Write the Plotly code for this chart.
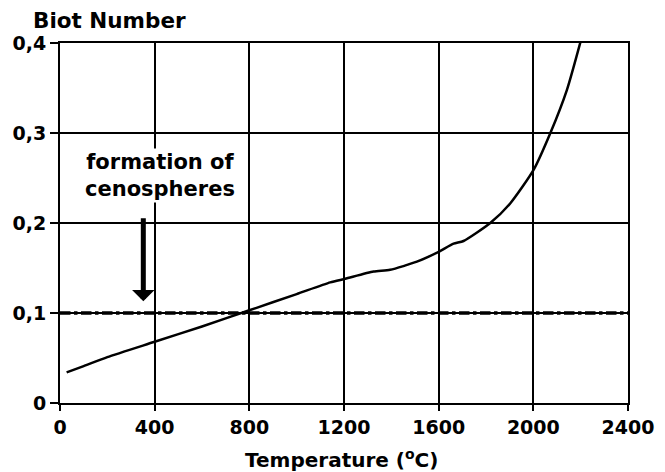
import plotly.graph_objects as go

# Biot number of the particle versus temperature
temperature_c = [28, 100, 200, 400, 600, 800, 1000, 1142, 1205, 1325, 1395, 1508,
                 1600, 1663, 1705, 1818, 1903, 2001, 2072, 2142, 2200]
biot_number = [0.034, 0.041, 0.051, 0.068, 0.085, 0.103, 0.121, 0.134, 0.138, 0.146,
               0.148, 0.157, 0.168, 0.177, 0.180, 0.200, 0.222, 0.259, 0.300, 0.348, 0.402]

# Critical Biot number for cenosphere formation
critical_biot = 0.1
critical_span = [0, 2400]

x_ticks = [0, 400, 800, 1200, 1600, 2000, 2400]
y_ticks = [0, 0.1, 0.2, 0.3, 0.4]
y_tick_labels = ["0", "0,1", "0,2", "0,3", "0,4"]

# Arrow pointing at the critical line
arrow_x = 352
arrow_tail_y = 0.207
arrow_head_y = 0.113
label_x = 421
label_y = 0.253

FONT = "DejaVu Sans"

fig = go.Figure()

fig.add_trace(go.Scatter(
    x=critical_span, y=[critical_biot, critical_biot], mode="lines",
    line=dict(color="black", width=3.5, dash="dashdot"),
    hoverinfo="skip", showlegend=False))

fig.add_trace(go.Scatter(
    x=temperature_c, y=biot_number, mode="lines",
    line=dict(color="black", width=2.5, shape="spline", smoothing=0.6),
    showlegend=False))

axis_common = dict(
    showgrid=True, gridcolor="black", gridwidth=1.8,
    showline=True, linecolor="black", linewidth=2, mirror=True,
    ticks="outside", tickcolor="black", tickwidth=2,
    zeroline=False, automargin=False,
    tickfont=dict(family=FONT, size=19, color="black", weight="bold"),
)

fig.update_xaxes(range=[0, 2400], tickvals=x_ticks, ticklen=6, **axis_common)
fig.update_yaxes(range=[0, 0.4], tickvals=y_ticks, ticktext=y_tick_labels,
                 ticklen=8, **axis_common)

fig.add_annotation(
    x=arrow_x, y=arrow_head_y, ax=arrow_x, ay=arrow_tail_y,
    xref="x", yref="y", axref="x", ayref="y",
    showarrow=True, arrowhead=1, arrowsize=0.75, arrowwidth=5,
    arrowcolor="black", text="")

fig.add_annotation(
    x=label_x, y=label_y, xref="x", yref="y",
    text="<b>formation of<br>cenospheres</b>", showarrow=False,
    font=dict(family=FONT, size=21, color="black"),
    bgcolor="white", align="center")

# Axis titles
fig.add_annotation(
    x=0, y=1, xref="paper", yref="paper", xanchor="left", yanchor="bottom",
    xshift=-29, yshift=8, showarrow=False,
    text="<b>Biot Number</b>",
    font=dict(family=FONT, size=21.5, color="black"))

fig.add_annotation(
    x=0.5, y=0, xref="paper", yref="paper", xanchor="center", yanchor="top",
    xshift=-3, yshift=-41, showarrow=False,
    text="<b>Temperature (<sup>o</sup>C)</b>",
    font=dict(family=FONT, size=20, color="black"))

fig.update_layout(
    width=665, height=472,
    margin=dict(l=60, r=37, t=43, b=69),
    plot_bgcolor="white", paper_bgcolor="white",
)

fig.write_html("out.html")
